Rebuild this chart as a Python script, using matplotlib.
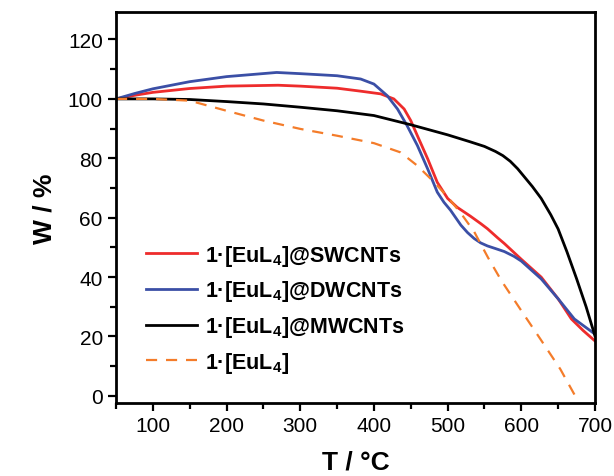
import matplotlib
matplotlib.use("Agg")
import matplotlib.pyplot as plt
from matplotlib.ticker import MultipleLocator

plt.rcParams['font.family'] = ['Liberation Sans', 'DejaVu Sans']
plt.rcParams['mathtext.fontset'] = 'custom'
plt.rcParams['mathtext.rm'] = 'Liberation Sans'
plt.rcParams['mathtext.bf'] = 'Liberation Sans:bold'
plt.rcParams['mathtext.default'] = 'bf'

# Data
t_sw = [50, 75, 100, 150, 200, 270, 300, 350, 382, 409, 427, 441, 450, 459, 473, 486, 500,
        513, 522, 531, 545, 554, 568, 577, 600, 627, 650, 668, 684, 700]
w_sw = [100, 101.2, 102.2, 103.5, 104.3, 104.6, 104.3, 103.6, 102.6, 101.7, 100, 96.6, 92.7,
        87.6, 79.8, 71.9, 66.5, 63.5, 62, 60.5, 58, 56.3, 53.2, 51.3, 46, 40, 32.7, 25.9, 22, 18.5]

t_dw = [50, 75, 100, 150, 200, 268, 300, 350, 382, 400, 418, 432, 445, 459, 473, 486, 495,
        504, 511, 518, 527, 536, 545, 554, 565, 577, 590, 600, 627, 650, 672, 700]
w_dw = [100, 101.8, 103.4, 105.8, 107.5, 108.9, 108.5, 107.8, 106.7, 105, 101.1, 96.6, 91,
        84.3, 76.4, 68.6, 65.2, 62.5, 60, 57.5, 55, 53, 51.5, 50.5, 49.6, 48.6, 47, 45.4,
        39.4, 32.7, 25.9, 20.8]

t_mw = [50, 100, 150, 200, 250, 300, 350, 400, 450, 500, 530, 550, 565, 575, 585, 595,
        605, 615, 627, 640, 650, 662, 675, 688, 700]
w_mw = [100, 100, 99.8, 99.1, 98.3, 97.2, 96, 94.4, 91.3, 87.9, 85.6, 84, 82.3, 80.9, 79,
        76.5, 73.5, 70.5, 66.5, 61, 56.2, 48.5, 39.5, 30, 20.2]

t_eu = [50, 100, 150, 200, 250, 300, 350, 400, 436, 459, 482, 500, 518, 536, 555, 573,
        600, 626, 653, 672, 676]
w_eu = [100, 100, 99.4, 96, 92.7, 89.9, 87.6, 85.1, 82, 77.5, 71.9, 67, 61.5, 55.3, 46.5,
        38.8, 28.7, 19.1, 9, 0.5, -1.5]

labels = [r'1·[EuL$_4$]@SWCNTs', r'1·[EuL$_4$]@DWCNTs', r'1·[EuL$_4$]@MWCNTs', r'1·[EuL$_4$]']

fig = plt.figure(figsize=(6.14, 4.77), dpi=100)
ax = fig.add_axes([0.189, 0.153, 0.780, 0.820])

ax.plot(t_sw, w_sw, color='#ee2c2c', lw=2.0, label=labels[0])
ax.plot(t_dw, w_dw, color='#3b4fa6', lw=2.0, label=labels[1])
ax.plot(t_mw, w_mw, color='#000000', lw=2.0, label=labels[2])
ax.plot(t_eu, w_eu, color='#f47c2a', lw=1.6, ls=(0, (5, 4)), label=labels[3])

ax.set_xlim(50, 700)
ax.set_ylim(-2.4, 129.3)
ax.xaxis.set_major_locator(MultipleLocator(100))
ax.xaxis.set_minor_locator(MultipleLocator(50))
ax.yaxis.set_major_locator(MultipleLocator(20))
ax.yaxis.set_minor_locator(MultipleLocator(10))
ax.tick_params(which='both', direction='out', width=1.6, top=False, right=False, labelsize=15)
ax.tick_params(which='major', length=6)
ax.tick_params(which='minor', length=4)
for s in ax.spines.values():
    s.set_linewidth(2.0)

ax.set_xlabel('T / °C', fontsize=19, fontweight='bold', labelpad=10)
ax.set_ylabel('W / %', fontsize=19, fontweight='bold', labelpad=8)

leg = ax.legend(loc='upper left', bbox_to_anchor=(0.062, 0.41), frameon=False,
                prop={'size': 15.5, 'weight': 'bold'}, handlelength=2.4,
                handletextpad=0.35, labelspacing=0.5, borderpad=0, borderaxespad=0)

fig.savefig('out.png', dpi=100)
